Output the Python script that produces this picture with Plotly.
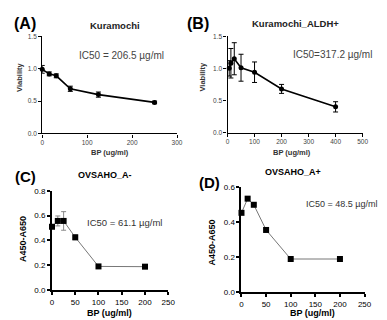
import plotly.graph_objects as go

W, H = 387, 320

# Panel A: Kuramochi
a_x = [0, 15.6, 31.25, 62.5, 125, 250]
a_y = [0.99, 0.92, 0.89, 0.69, 0.60, 0.48]
a_err = [0.06, 0.03, 0.03, 0.04, 0.04, 0.02]

# Panel B: Kuramochi_ALDH+
b_x = [6.25, 12.5, 25, 50, 100, 200, 400]
b_y = [1.00, 1.08, 1.15, 1.01, 0.94, 0.68, 0.40]
b_err = [0.12, 0.23, 0.25, 0.21, 0.16, 0.07, 0.08]

# Panel C: OVSAHO_A-
c_x = [0, 12.5, 25, 50, 100, 200]
c_y = [0.51, 0.557, 0.557, 0.425, 0.19, 0.188]
c_err = [0.01, 0.04, 0.075, 0.02, 0.005, 0.005]

# Panel D: OVSAHO_A+
d_x = [0, 12.5, 25, 50, 100, 200]
d_y = [0.452, 0.533, 0.498, 0.354, 0.188, 0.188]
d_err = [0.005, 0.008, 0.006, 0.005, 0.004, 0.004]

FONT = "Liberation Sans, Arial, sans-serif"

def px_dom(a, b, total):
    return [a / total, b / total]

def py_dom(top, bottom):
    return [1 - bottom / H, 1 - top / H]

fig = go.Figure()

panels = [
    dict(x=a_x, y=a_y, e=a_err, xd=px_dom(33, 171, W), yd=py_dom(25, 125), xr=[0, 300], xdt=100,
         yr=[0, 1.5], ydt=0.5, lc="black", lw=1.6, ms=5, sym="circle", ec="black", alw=1.3, tf=6.5, tc="#444"),
    dict(x=b_x, y=b_y, e=b_err, xd=px_dom(222.7, 361, W), yd=py_dom(25, 124), xr=[0, 500], xdt=100,
         yr=[0, 1.5], ydt=0.5, lc="black", lw=1.6, ms=5, sym="circle", ec="black", alw=1.3, tf=6.5, tc="#444"),
    dict(x=c_x, y=c_y, e=c_err, xd=px_dom(43, 162, W), yd=py_dom(184, 286), xr=[0, 250], xdt=50,
         yr=[0, 0.8], ydt=0.2, lc="#777", lw=1, ms=6, sym="square", ec="#888", alw=2, tf=8, tc="black"),
    dict(x=d_x, y=d_y, e=d_err, xd=px_dom(237, 363, W), yd=py_dom(180, 288), xr=[0, 250], xdt=50,
         yr=[0, 0.6], ydt=0.2, lc="#777", lw=1, ms=6, sym="square", ec="#888", alw=2, tf=8, tc="black"),
]

layout = {}
for i, p in enumerate(panels, start=1):
    xa = "x" if i == 1 else f"x{i}"
    ya = "y" if i == 1 else f"y{i}"
    fig.add_trace(go.Scatter(
        x=p["x"], y=p["y"], xaxis=xa, yaxis=ya, mode="lines+markers",
        line=dict(color=p["lc"], width=p["lw"]),
        marker=dict(color="black", size=p["ms"], symbol=p["sym"]),
        error_y=dict(type="data", array=p["e"], color=p["ec"], thickness=1, width=2.5),
        showlegend=False, cliponaxis=False,
    ))
    axcommon = dict(showgrid=False, zeroline=False, showline=True, linecolor="black",
                    linewidth=p["alw"], ticks="outside", ticklen=3, tickwidth=p["alw"],
                    tickcolor="black", tickfont=dict(family=FONT, size=p["tf"], color=p["tc"]))
    layout["xaxis" if i == 1 else f"xaxis{i}"] = dict(
        domain=p["xd"], anchor=ya, range=p["xr"], dtick=p["xdt"], tick0=0, **axcommon)
    layout["yaxis" if i == 1 else f"yaxis{i}"] = dict(
        domain=p["yd"], anchor=xa, range=p["yr"], dtick=p["ydt"], tick0=0, tickformat=".1f", **axcommon)

fig.update_layout(**layout)

def ann(text, x, y, size, bold=False, color="black", angle=0):
    t = f"<b>{text}</b>" if bold else text
    fig.add_annotation(text=t, x=x / W, y=1 - y / H, xref="paper", yref="paper",
                       showarrow=False, textangle=angle, xanchor="center", yanchor="middle",
                       font=dict(family=FONT, size=size, color=color))

# Panel A texts
ann("(A)", 15, 12, 16, True)
ann("Kuramochi", 108, 14, 9.5, True, "#222")
ann("IC50 = 206.5 µg/ml", 114, 45, 10, False, "#444")
ann("Viability", 9, 67, 7.5, True, "#333", -90)
ann("BP (ug/ml)", 102, 145, 7.5, True, "#333")
# Panel B texts
ann("(B)", 192, 12, 16, True)
ann("Kuramochi_ALDH+", 292, 12, 9.5, True, "#222")
ann("IC50=317.2 µg/ml", 330, 44, 10, False, "#444")
ann("Viability", 197, 67, 7.5, True, "#333", -90)
ann("BP (ug/ml)", 289, 145, 7.5, True, "#333")
# Panel C texts
ann("(C)", 16, 169, 15, True)
ann("OVSAHO_A-", 97, 168, 9, True)
ann("IC50 = 61.1 µg/ml", 117, 217, 9.5, False, "#333")
ann("A450-A650", 14, 234, 9, True, "black", -90)
ann("BP (ug/ml)", 102, 310, 9, True)
# Panel D texts
ann("(D)", 204, 175, 15, True)
ann("OVSAHO_A+", 290, 165, 9, True)
ann("IC50 = 48.5 µg/ml", 339, 198, 9, False, "#333")
ann("A450-A650", 207, 237, 9, True, "black", -90)
ann("BP (ug/ml)", 310, 310, 9, True)

fig.update_layout(width=W, height=H, margin=dict(l=0, r=0, t=0, b=0),
                  paper_bgcolor="white", plot_bgcolor="white")

fig.write_html("out.html")
